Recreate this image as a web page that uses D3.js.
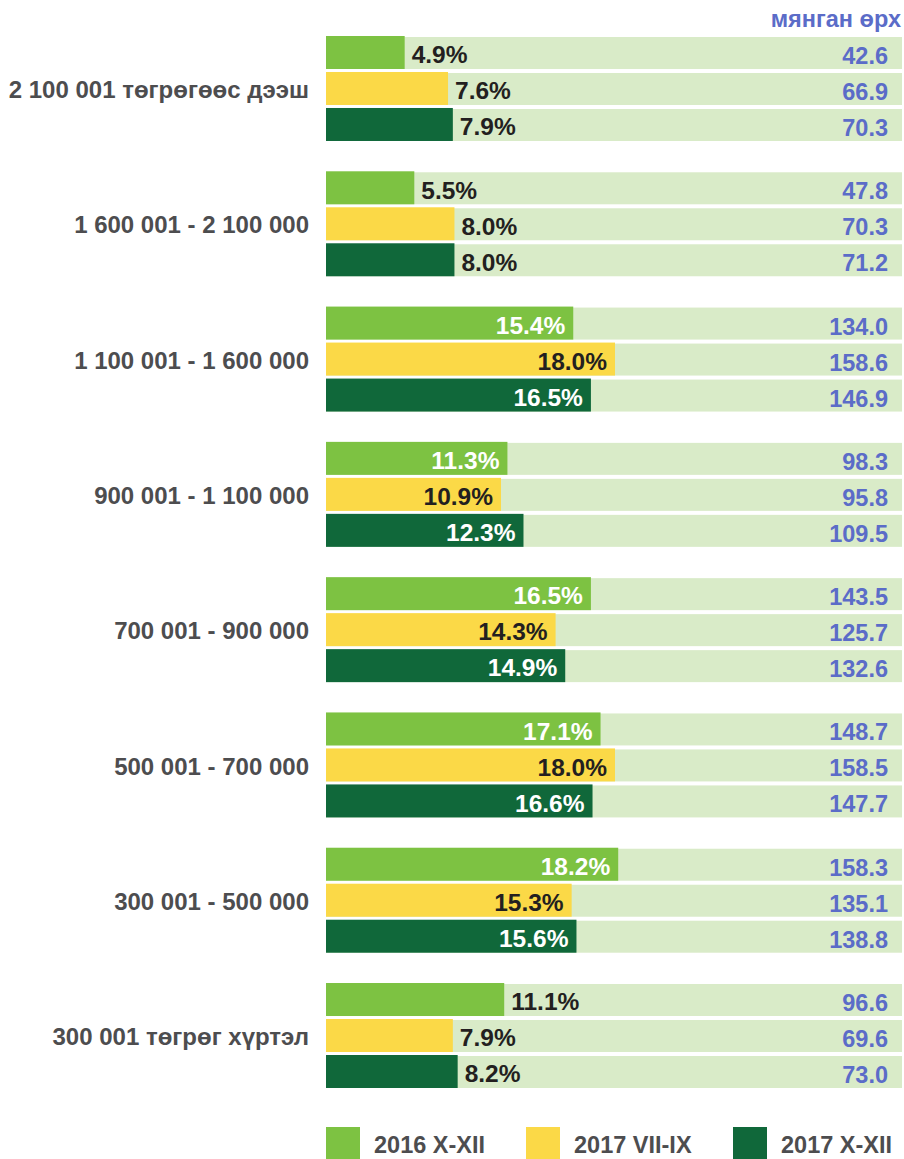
<!DOCTYPE html>
<html>
<head>
<meta charset="utf-8">
<script src="https://cdn.jsdelivr.net/npm/d3@7"></script>
<style>
  body { margin: 0; background: #fff; }
  svg text { font-family: "Liberation Sans", Arial, sans-serif; font-weight: bold; }
</style>
</head>
<body>
<div id="chart"></div>
<script>
// income groups (top to bottom)
const categories = [
    '2 100 001 төгрөгөөс дээш',
    '1 600 001 - 2 100 000',
    '1 100 001 - 1 600 000',
    '900 001 - 1 100 000',
    '700 001 - 900 000',
    '500 001 - 700 000',
    '300 001 - 500 000',
    '300 001 төгрөг хүртэл'
];
const seriesNames = ['2016 X-XII', '2017 VII-IX', '2017 X-XII'];

// share of households, %
const pct2016q4 = [4.9, 5.5, 15.4, 11.3, 16.5, 17.1, 18.2, 11.1];
const pct2017q3 = [7.6, 8.0, 18.0, 10.9, 14.3, 18.0, 15.3, 7.9];
const pct2017q4 = [7.9, 8.0, 16.5, 12.3, 14.9, 16.6, 15.6, 8.2];

// households, thousand
const hh2016q4 = [42.6, 47.8, 134.0, 98.3, 143.5, 148.7, 158.3, 96.6];
const hh2017q3 = [66.9, 70.3, 158.6, 95.8, 125.7, 158.5, 135.1, 69.6];
const hh2017q4 = [70.3, 71.2, 146.9, 109.5, 132.6, 147.7, 138.8, 73.0];

// percent label drawn inside the bar for these groups
const labelInside = [false, false, true, true, true, true, true, false];

const unitLabel = 'мянган өрх';
const colors = ['#7dc242', '#fbd947', '#10683a'];
const insideText = ['#ffffff', '#231f20', '#ffffff'];

const W = 904, H = 1159;
const pctSeries = [pct2016q4, pct2017q3, pct2017q4];
const hhSeries = [hh2016q4, hh2017q3, hh2017q4];

const svg = d3.select('#chart').append('svg')
    .attr('width', W).attr('height', H);

const x = d3.scaleLinear().domain([0, 36]).range([326, 904]);
const y0 = d3.scaleBand().domain(d3.range(categories.length))
    .range([36, 1088]).paddingInner(0.224).paddingOuter(0);
const y1 = d3.scaleBand().domain(d3.range(3))
    .range([0, y0.bandwidth()]).paddingInner(0.0833);

svg.append('text')
    .attr('x', 901).attr('y', 27)
    .attr('text-anchor', 'end')
    .attr('fill', '#5b6cc8')
    .style('font-size', '23.5px')
    .text(unitLabel);

const groups = svg.selectAll('g.grp')
    .data(categories)
    .join('g')
    .attr('class', 'grp')
    .attr('transform', (d, i) => `translate(0,${y0(i)})`);

groups.append('text')
    .attr('x', 309)
    .attr('y', y0.bandwidth() / 2 + 1)
    .attr('dy', '0.36em')
    .attr('text-anchor', 'end')
    .attr('fill', '#4d4d4f')
    .style('font-size', '24px')
    .text(d => d);

groups.each(function (c, gi) {
    const g = d3.select(this);
    const rows = d3.range(3).map(s => ({
        s: s, pct: pctSeries[s][gi], hh: hhSeries[s][gi], inside: labelInside[gi]
    }));

    // background track
    g.selectAll('rect.bg').data(rows).join('rect')
        .attr('class', 'bg')
        .attr('x', x(0))
        .attr('y', d => y1(d.s) + 1)
        .attr('width', x.range()[1] - x(0) - 2)
        .attr('height', y1.bandwidth() - 1)
        .attr('fill', '#d9ebc8');

    g.selectAll('rect.bar').data(rows).join('rect')
        .attr('class', 'bar')
        .attr('x', x(0))
        .attr('y', d => y1(d.s))
        .attr('width', d => x(d.pct) - x(0))
        .attr('height', y1.bandwidth())
        .attr('fill', d => colors[d.s]);

    g.selectAll('text.pct').data(rows).join('text')
        .attr('class', 'pct')
        .attr('x', d => d.inside ? x(d.pct) - 8 : x(d.pct) + 7)
        .attr('y', d => y1(d.s) + y1.bandwidth() / 2 + 2)
        .attr('dy', '0.36em')
        .attr('text-anchor', d => d.inside ? 'end' : 'start')
        .attr('fill', d => d.inside ? insideText[d.s] : '#231f20')
        .style('font-size', '24.5px')
        .text(d => d.pct.toFixed(1) + '%');

    g.selectAll('text.hh').data(rows).join('text')
        .attr('class', 'hh')
        .attr('x', 888)
        .attr('y', d => y1(d.s) + y1.bandwidth() / 2 + 3)
        .attr('dy', '0.36em')
        .attr('text-anchor', 'end')
        .attr('fill', '#5b6cc8')
        .style('font-size', '23.5px')
        .text(d => d.hh.toFixed(1));
});

// legend
const lx = [326, 526, 733];
const legend = svg.selectAll('g.leg').data(seriesNames).join('g')
    .attr('class', 'leg')
    .attr('transform', (d, i) => `translate(${lx[i]},1127)`);
legend.append('rect')
    .attr('width', 34).attr('height', 34)
    .attr('fill', (d, i) => colors[i]);
legend.append('text')
    .attr('x', 48).attr('y', 18)
    .attr('dy', '0.36em')
    .attr('fill', '#4d4d4f')
    .style('font-size', '23.5px')
    .text(d => d);
</script>
</body>
</html>
